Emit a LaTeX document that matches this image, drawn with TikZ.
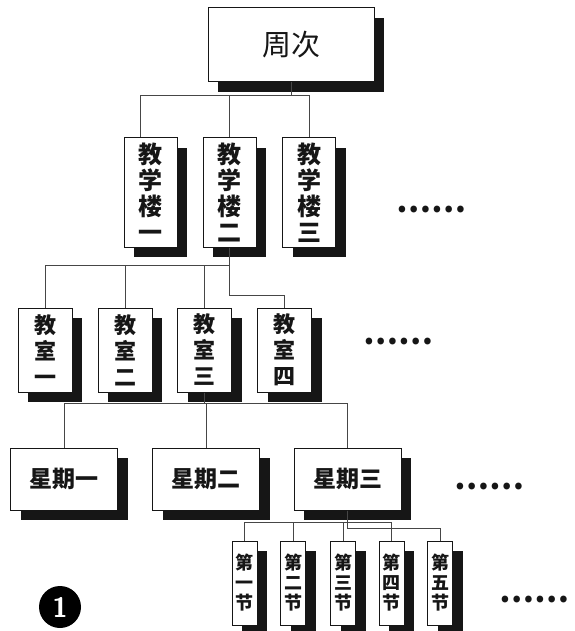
\documentclass[tikz,border=0pt]{standalone}
\usepackage{fontspec}
\newfontfamily\cjk{Noto Sans CJK SC}
\usetikzlibrary{shadows}
\definecolor{KbInk}{RGB}{22,22,22}
\definecolor{KbLine}{RGB}{70,70,70}
\tikzset{
  kb/box/.style={
    draw=KbInk,
    line width=1pt,
    fill=white,
    align=center,
    text=KbInk,
    inner sep=0pt,
    drop shadow={shadow xshift=10pt,shadow yshift=-10pt,fill=KbInk,opacity=1}
  },
  kb/top/.style={kb/box, minimum width=166pt, minimum height=74pt, font=\cjk\fontsize{29}{30}\selectfont},
  kb/hall/.style={kb/box, minimum width=53pt, minimum height=109pt, font=\cjk\bfseries\fontsize{24}{26}\selectfont},
  kb/room/.style={kb/box, minimum width=54pt, minimum height=84pt, font=\cjk\bfseries\fontsize{22}{26}\selectfont},
  kb/day/.style={kb/box, minimum width=107pt, minimum height=62pt, font=\cjk\bfseries\fontsize{23}{24}\selectfont},
  kb/period/.style={kb/box, minimum width=25pt, minimum height=84pt, font=\cjk\bfseries\fontsize{18}{20}\selectfont},
  kb/link/.style={draw=KbLine, line width=0.8pt},
  kb/more/.style={font=\cjk\bfseries\fontsize{31}{31}\selectfont, text=KbInk},
  kb/badge/.style={circle, fill=black, text=white, minimum size=42pt, inner sep=0pt, font=\sffamily\bfseries\fontsize{28}{28}\selectfont}
}

\begin{document}
\begin{tikzpicture}[x=1pt,y=-1pt]
  \useasboundingbox (0,0) rectangle (574,631);
  \node[kb/top] (week) at (291,45) {周次};
  \node[kb/hall] (hall1) at (150.5,192.5) {教\\学\\楼\\一};
  \node[kb/hall] (hall2) at (229.5,192.5) {教\\学\\楼\\二};
  \node[kb/hall] (hall3) at (309,192.5) {教\\学\\楼\\三};
  \node[kb/more] (hallmore) at (431,210) {……};
  \foreach \n/\x/\t in {1/45/一,2/125/二,3/204.5/三,4/284.5/四}
    \node[kb/room] (room\n) at (\x,350) {教\\室\\\t};
  \node[kb/more] (roommore) at (398,342) {……};
  \node[kb/day] (day1) at (64,479) {星期一};
  \node[kb/day] (day2) at (206,479) {星期二};
  \node[kb/day] (day3) at (347.5,479) {星期三};
  \node[kb/more] (daymore) at (489,487) {……};
  \foreach \n/\x/\t in {1/244.5/一,2/293/二,3/343/三,4/391.5/四,5/440/五}
    \node[kb/period] (period\n) at (\x,583) {第\\\t\\节};
  \node[kb/more] (periodmore) at (534,600) {……};
  \node[kb/badge] (badge) at (60,607) {1};
  \foreach \h/\s in {hall1/-10pt,hall2/0pt,hall3/0pt}
    \draw[kb/link] (week.south) -- ++(0,13) -| ([xshift=\s]\h.north);
  \foreach \r in {room1,room2,room3}
    \draw[kb/link] (hall2.south) -- ++(0,18) -| (\r.north);
  \draw[kb/link] (hall2.south) -- ++(0,48) -| (room4.north);
  \foreach \d in {day1,day2,day3}
    \draw[kb/link] (room3.south) -- ++(0,11) -| (\d.north);
  \foreach \p in {period1,period2,period3,period4}
    \draw[kb/link] (day3.south) -- ++(0,12) -| (\p.north);
  \draw[kb/link] (day3.south) -- ++(0,18) -| (period5.north);
\end{tikzpicture}
\end{document}
